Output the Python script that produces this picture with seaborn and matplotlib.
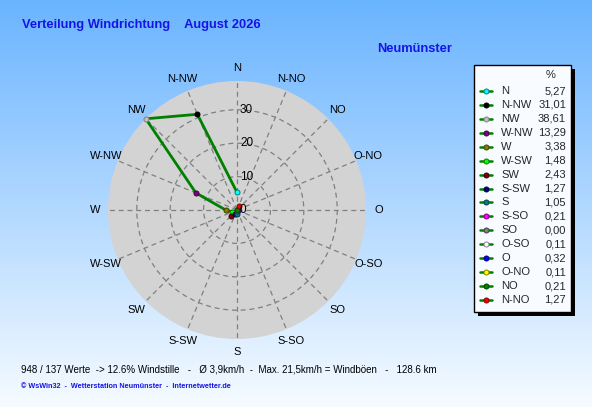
import matplotlib
matplotlib.use("Agg")
import matplotlib.pyplot as plt
from matplotlib.lines import Line2D
from matplotlib.transforms import offset_copy
import numpy as np
import pandas as pd
import seaborn as sns

sns.set_style("white")
plt.rcParams['font.family'] = ['Liberation Sans', 'DejaVu Sans']

# wind directions (German labels), counter-clockwise from north
richtung = ['N', 'N-NW', 'NW', 'W-NW', 'W', 'W-SW', 'SW', 'S-SW',
            'S', 'S-SO', 'SO', 'O-SO', 'O', 'O-NO', 'NO', 'N-NO']
winkel = [0, 337.5, 315, 292.5, 270, 247.5, 225, 202.5,
          180, 157.5, 135, 112.5, 90, 67.5, 45, 22.5]
prozent = [5.27, 31.01, 38.61, 13.29, 3.38, 1.48, 2.43, 1.27,
           1.05, 0.21, 0.00, 0.11, 0.32, 0.11, 0.21, 1.27]
farben = ['#00FFFF', '#000000', '#C0C0C0', '#800080', '#808000', '#00FF00',
          '#800000', '#000080', '#008080', '#FF00FF', '#808080', '#FFFFFF',
          '#0000FF', '#FFFF00', '#008000', '#FF0000']
kanten = ['#008080', '#000000', '#808080', '#400040', '#404000', '#008000',
          '#400000', '#000040', '#004040', '#800080', '#404040', '#808080',
          '#000080', '#808000', '#004000', '#800000']

# compass labels going clockwise from north
achsen = ['N', 'N-NO', 'NO', 'O-NO', 'O', 'O-SO', 'SO', 'S-SO',
          'S', 'S-SW', 'SW', 'W-SW', 'W', 'W-NW', 'NW', 'N-NW']
ringe = [0, 10, 20, 30]

titel = "Verteilung Windrichtung    August 2026"
ort = "Neumünster"
fuss = "948 / 137 Werte  -> 12.6% Windstille   -   \u00d8 3,9km/h  -  Max. 21,5km/h = Windböen   -   128.6 km"
quelle = "\u00a9 WsWin32  -  Wetterstation Neumünster  -  Internetwetter.de"

df = pd.DataFrame({'dir': richtung, 'theta': np.deg2rad(winkel), 'r': prozent})

W, H = 592, 407
fig = plt.figure(figsize=(W / 100, H / 100), dpi=100)

# background gradient
bg = fig.add_axes([0, 0, 1, 1])
top = np.array([106, 180, 255]) / 255
bot = np.array([246, 251, 255]) / 255
t = np.linspace(0, 1, 256)[:, None]
grad = top[None, :] * (1 - t) + bot[None, :] * t
bg.imshow(grad[:, None, :], aspect='auto', extent=[0, 1, 0, 1])
bg.set_axis_off()

# polar plot
cx, cy, rad = 237, 210, 129
ax = fig.add_axes([(cx - rad) / W, (H - cy - rad) / H, 2 * rad / W, 2 * rad / H],
                  projection='polar')
ax.set_theta_zero_location('N')
ax.set_theta_direction(-1)
ax.set_facecolor('#D3D3D3')
ax.spines['polar'].set_visible(False)
rmax = max(prozent)
ax.set_ylim(0, rmax)
ax.set_xticks(np.deg2rad(np.arange(0, 360, 22.5)))
ax.set_xticklabels([])
ax.set_yticks(ringe)
ax.set_yticklabels([])
ax.grid(True, color='#808080', linestyle=(0, (4, 3)), linewidth=0.9)

closed = pd.concat([df, df.iloc[:1]], ignore_index=True)
sns.lineplot(data=closed, x='theta', y='r', sort=False, color='#008000',
             linewidth=2, ax=ax, legend=False)
for i in range(len(df)):
    ax.plot(df.theta[i], df.r[i], marker='o', markersize=3.6,
            markerfacecolor=farben[i], markeredgecolor=kanten[i],
            markeredgewidth=0.7, zorder=5, clip_on=False)
ax.set_xlabel('')
ax.set_ylabel('')

for i, lab in enumerate(achsen):
    ax.text(np.deg2rad(i * 22.5), rmax * 142 / 129, lab, ha='center', va='center',
            fontsize=8, color='black')

tr = offset_copy(ax.transData, fig=fig, x=3, y=0, units='dots')
for r in ringe:
    ax.text(0, r, str(r), transform=tr, ha='left', va='center', fontsize=8.5,
            color='black', zorder=6)

# titles
fig.text(22 / W, 1 - 25 / H, titel, fontsize=9.3, fontweight='bold',
         color='#1414E6', va='center', ha='left')
fig.text(377 / W, 1 - 49 / H, ort, fontsize=9.3, fontweight='bold',
         color='#1414E6', va='center', ha='left')
fig.text(21 / W, 1 - 369 / H, fuss, fontsize=7, color='black', va='center', ha='left')
fig.text(21 / W, 1 - 386 / H, quelle, fontsize=5.2, fontweight='bold',
         color='#1414E6', va='center', ha='left')

# legend box
lx0, ly0, lx1, ly1 = 474, 65, 571, 312
shadow = plt.Rectangle(((lx0 + 4) / W, 1 - (ly1 + 4) / H), (lx1 - lx0) / W,
                       (ly1 - ly0) / H, transform=fig.transFigure,
                       facecolor='black', edgecolor='none')
box = plt.Rectangle((lx0 / W, 1 - ly1 / H), (lx1 - lx0) / W, (ly1 - ly0) / H,
                    transform=fig.transFigure, facecolor='#F8FBFF',
                    edgecolor='black', linewidth=1)
fig.patches.extend([shadow, box])
fig.text(551 / W, 1 - 75 / H, '%', fontsize=8, ha='center', va='center')
for i, lab in enumerate(richtung):
    y = 1 - (91 + i * 13.93) / H
    fig.lines.append(Line2D([480 / W, 492 / W], [y, y], transform=fig.transFigure,
                            color='#008000', linewidth=1.8))
    fig.lines.append(Line2D([486 / W], [y], transform=fig.transFigure, marker='o',
                            markersize=3.6, markerfacecolor=farben[i],
                            markeredgecolor=kanten[i], markeredgewidth=0.7))
    fig.text(501 / W, y, lab, fontsize=8, ha='left', va='center')
    fig.text(566 / W, y, f"{prozent[i]:.2f}".replace('.', ','), fontsize=8,
             ha='right', va='center')

fig.savefig('out.png', dpi=100)
